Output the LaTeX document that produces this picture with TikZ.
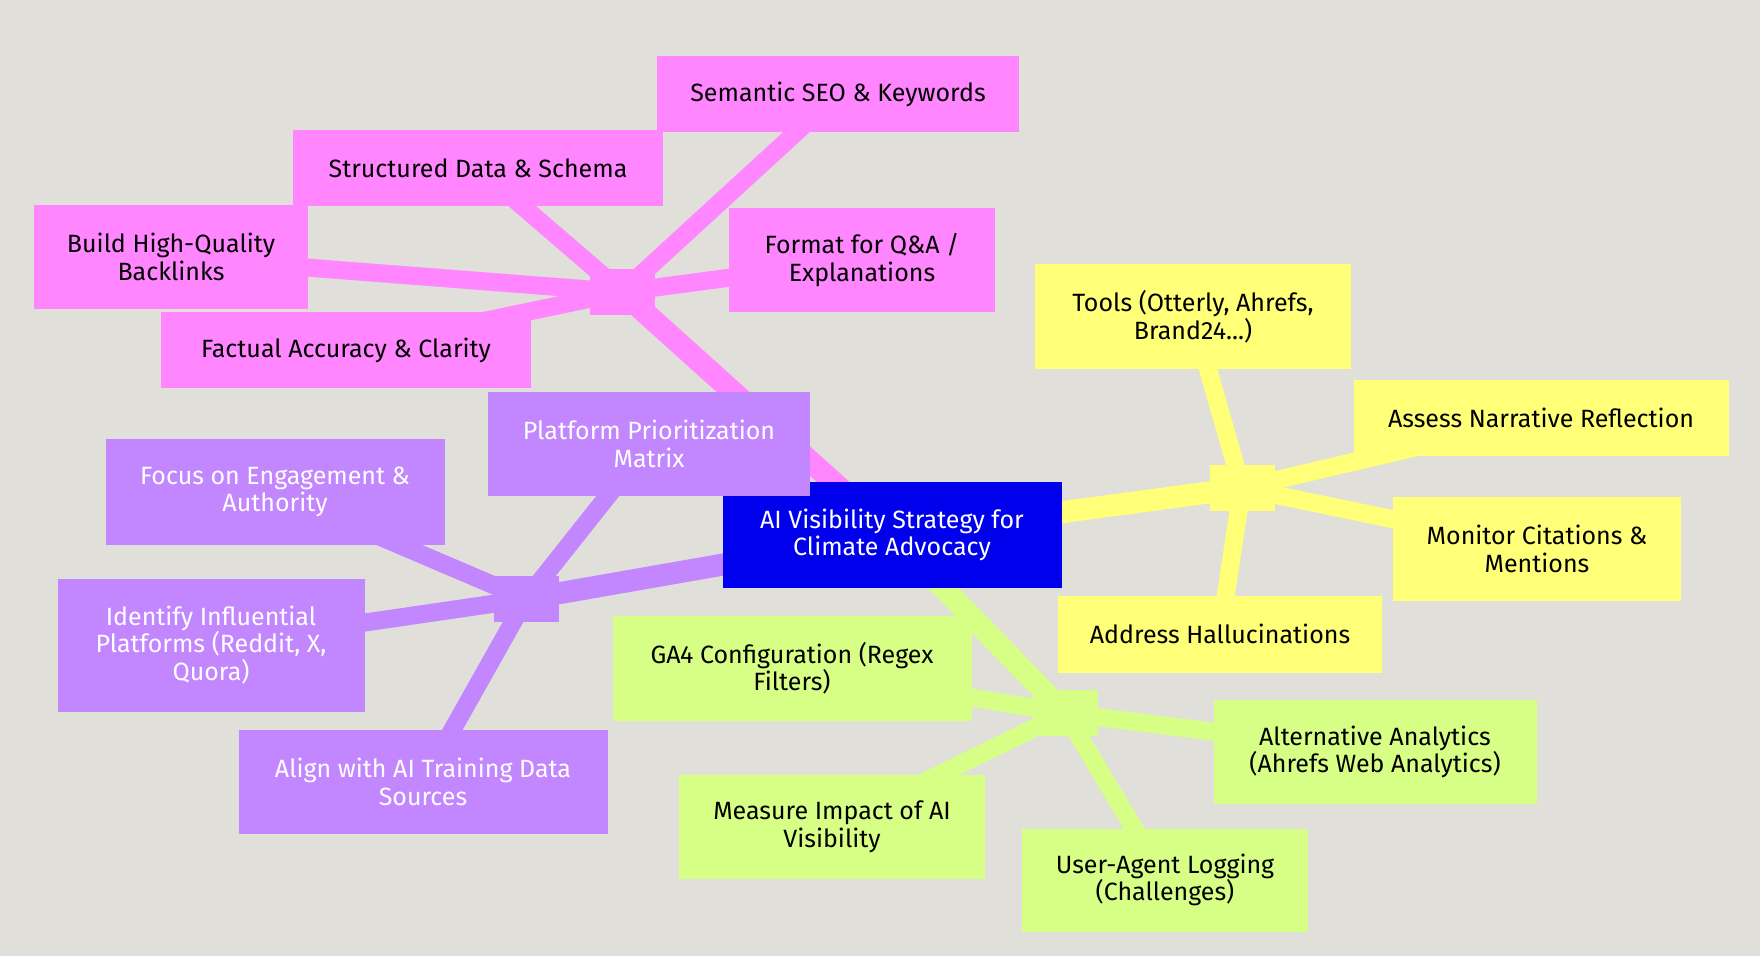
\documentclass[tikz,border=0pt]{standalone}
\usepackage{fontspec}
\usepackage{xcolor}
\setmainfont{Fira Sans}
\definecolor{bgcol}{HTML}{E0DFDA}
\definecolor{rootcol}{HTML}{0000EC}
\definecolor{pinkcol}{HTML}{FF86FF}
\definecolor{purplecol}{HTML}{C286FF}
\definecolor{yellowcol}{HTML}{FFFF78}
\definecolor{greencol}{HTML}{D7FF86}
\pgfdeclarelayer{bglayer}
\pgfdeclarelayer{edgelayer}
\pgfsetlayers{bglayer,edgelayer,main}

\begin{document}
\begin{tikzpicture}[x=0.5pt,y=-0.5pt,
  leaf/.style={rectangle,inner sep=0pt,align=center,font=\fontsize{12.5}{13.75}\selectfont},
  rootbox/.style={leaf,fill=rootcol,text=white},
  pinkbox/.style={leaf,fill=pinkcol,text=black},
  purplebox/.style={leaf,fill=purplecol,text=white},
  yellowbox/.style={leaf,fill=yellowcol,text=black},
  greenbox/.style={leaf,fill=greencol,text=black},
  hub/.style={rectangle,inner sep=0pt,minimum width=32.5pt,minimum height=23pt},
  trunk/.style={line width=11pt},
  twig/.style={line width=9pt}]

\begin{pgfonlayer}{bglayer}
\fill[bgcol] (0,0) rectangle (1760,956);
\end{pgfonlayer}

\node[rootbox,minimum width=169.5pt,minimum height=52.5pt] (root) at (892,535) {AI Visibility Strategy for\\Climate Advocacy};

\node[hub,fill=pinkcol] (pinkhub) at (622,292) {};
\node[pinkbox,minimum width=181pt,minimum height=38pt] (semantic) at (838,94) {Semantic SEO \& Keywords};
\node[pinkbox,minimum width=185pt,minimum height=38pt] (structured) at (478,168) {Structured Data \& Schema};
\node[pinkbox,minimum width=137pt,minimum height=52pt] (backlinks) at (171,257) {Build High-Quality\\Backlinks};
\node[pinkbox,minimum width=185pt,minimum height=38pt] (factual) at (346,350) {Factual Accuracy \& Clarity};
\node[pinkbox,minimum width=133pt,minimum height=52pt] (format) at (862,260) {Format for Q\&A /\\Explanations};

\node[hub,fill=purplecol] (purplehub) at (526,599) {};
\node[purplebox,minimum width=161pt,minimum height=52pt] (platform) at (649,444) {Platform Prioritization\\Matrix};
\node[purplebox,minimum width=169.5pt,minimum height=52.5pt] (focus) at (275,492) {Focus on Engagement \&\\Authority};
\node[purplebox,minimum width=153.5pt,minimum height=66.5pt] (identify) at (211,645) {Identify Influential\\Platforms (Reddit, X,\\Quora)};
\node[purplebox,minimum width=184.5pt,minimum height=52pt] (align) at (423,782) {Align with AI Training Data\\Sources};

\node[hub,fill=yellowcol] (yellowhub) at (1242,488) {};
\node[yellowbox,minimum width=158pt,minimum height=52.5pt] (tools) at (1193,317) {Tools (Otterly, Ahrefs,\\Brand24...)};
\node[yellowbox,minimum width=187.5pt,minimum height=38pt] (assess) at (1541,418) {Assess Narrative Reflection};
\node[yellowbox,minimum width=144pt,minimum height=52pt] (monitor) at (1537,549) {Monitor Citations \&\\Mentions};
\node[yellowbox,minimum width=162pt,minimum height=38.5pt] (address) at (1220,634) {Address Hallucinations};

\node[hub,fill=greencol] (greenhub) at (1065,713) {};
\node[greenbox,minimum width=179.5pt,minimum height=52.5pt] (ga4) at (792,668) {GA4 Configuration (Regex\\Filters)};
\node[greenbox,minimum width=161.5pt,minimum height=52pt] (alternative) at (1375,752) {Alternative Analytics\\(Ahrefs Web Analytics)};
\node[greenbox,minimum width=153pt,minimum height=52pt] (measure) at (832,827) {Measure Impact of AI\\Visibility};
\node[greenbox,minimum width=143pt,minimum height=51.5pt] (useragent) at (1165,880) {User-Agent Logging\\(Challenges)};

\begin{pgfonlayer}{edgelayer}
\draw[trunk,pinkcol] (root.center) -- (pinkhub.center);
\draw[trunk,purplecol] (root.center) -- (purplehub.center);
\draw[trunk,yellowcol] (root.center) -- (yellowhub.center);
\draw[trunk,greencol] (root.center) -- (greenhub.center);
\foreach \leafname in {semantic,structured,backlinks,factual,format}
  \draw[twig,pinkcol] (pinkhub.center) -- (\leafname.center);
\foreach \leafname in {platform,focus,identify,align}
  \draw[twig,purplecol] (purplehub.center) -- (\leafname.center);
\foreach \leafname in {tools,assess,monitor,address}
  \draw[twig,yellowcol] (yellowhub.center) -- (\leafname.center);
\foreach \leafname in {ga4,alternative,measure,useragent}
  \draw[twig,greencol] (greenhub.center) -- (\leafname.center);
\end{pgfonlayer}
\end{tikzpicture}
\end{document}
